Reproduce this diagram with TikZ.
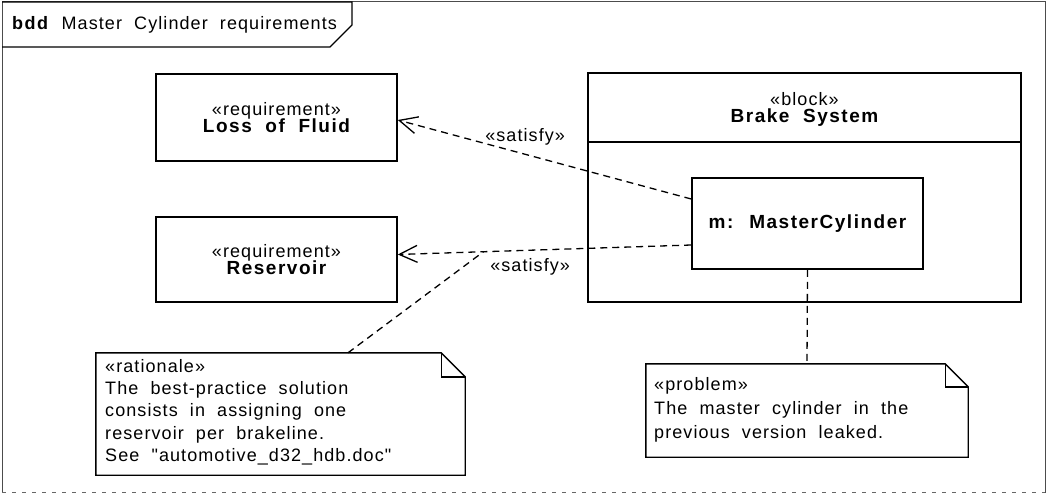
\documentclass[tikz,border=0pt]{standalone}
\usepackage{fontspec}
\newfontfamily\umlfont[LetterSpace=6,WordSpace=2,BoldFeatures={LetterSpace=8}]{Liberation Sans}
\usetikzlibrary{arrows.meta}
\newcommand\stfont{\umlfont\fontsize{18}{20}\selectfont}
\newcommand\nmfont{\umlfont\fontsize{19}{20}\selectfont\bfseries}
\tikzset{
  boxl/.style={draw=black, line width=1.6pt, rectangle, inner sep=0pt},
  reqbox/.style={boxl, minimum width=241pt, align=center, font=\stfont},
  notearea/.style={rectangle, inner sep=0pt, draw=none},
  notel/.style={draw=black, line width=1.4pt, line join=miter},
  dep/.style={draw=black, line width=1.3pt, dash pattern=on 7pt off 5pt},
  sat/.style={dep, -{Straight Barb[length=18pt,width=17pt,line width=1.3pt]}},
  lbl/.style={font=\stfont, inner sep=0pt},
  notetext/.style={anchor=north west, align=left, inner sep=0pt},
  frm/.style={draw=black!70, line width=1pt}
}
\begin{document}
\begin{tikzpicture}[x=1pt,y=-1pt]
\useasboundingbox (0,0) rectangle (1047,495);
% frame
\draw[frm] (2,492.5) -- (2,2) -- (1045,2) -- (1045,492.5);
\draw[draw=black!60, line width=1pt, dash pattern=on 4pt off 6pt] (2,492.5) -- (1045,492.5);
\draw[draw=black, line width=1.2pt] (2,2) -- (352,2) -- (352,25) -- (330,47) -- (2,47);
\node[anchor=west, inner sep=0pt, font=\stfont] (title) at (12,24.5) {\textbf{bdd} Master Cylinder requirements};
% requirements
\node[reqbox, minimum height=87pt] (lof) at (276.5,117.5) {«requirement»\\[-3pt]{\nmfont Loss of Fluid}};
\node[reqbox, minimum height=85pt] (res) at (276.5,259.5) {«requirement»\\[-3pt]{\nmfont Reservoir}};
% block
\node[boxl, minimum width=433pt, minimum height=229pt] (brake) at (804.5,187.5) {};
\draw[line width=1.6pt] (brake.north west) ++(0,70) coordinate (cl) -- (cl -| brake.east);
\node[inner sep=0pt, align=center, font=\stfont] (brakehd) at (804.5,109) {«block»\\[-3pt]{\nmfont Brake System}};
\node[boxl, minimum width=231pt, minimum height=91pt, font=\nmfont] (mc) at (807.5,223.5) {m: MasterCylinder};
% notes
\node[notearea, minimum width=369pt, minimum height=122pt] (rat) at (280.5,414) {};
\draw[notel] (rat.north west) -- ([xshift=-24pt]rat.north east) -- ([yshift=-24pt]rat.north east) -- (rat.south east) -- (rat.south west) -- cycle;
\draw[notel] ([xshift=-24pt]rat.north east) |- ([yshift=-24pt]rat.north east);
\node[notetext, font=\umlfont\fontsize{18}{22.3}\selectfont] (ratt) at (105,359) {«rationale»\\The best-practice solution\\consists in assigning one\\reservoir per brakeline.\\See "automotive\_d32\_hdb.doc"};
\node[notearea, minimum width=322pt, minimum height=93pt] (prob) at (807,410.5) {};
\draw[notel] (prob.north west) -- ([xshift=-23pt]prob.north east) -- ([yshift=-23pt]prob.north east) -- (prob.south east) -- (prob.south west) -- cycle;
\draw[notel] ([xshift=-23pt]prob.north east) |- ([yshift=-23pt]prob.north east);
\node[notetext, font=\umlfont\fontsize{18}{24.3}\selectfont] (probt) at (654,377) {«problem»\\The master cylinder in the\\previous version leaked.};
% connectors
\draw[sat] ([yshift=24.5pt]mc.west) -- node[lbl, pos=0.566, yshift=17pt] (s1) {«satisfy»} ([yshift=-2.5pt]lof.east);
\draw[sat] ([yshift=-21.5pt]mc.west) -- coordinate[pos=0.708] (ra) node[lbl, pos=0.549, yshift=-16.5pt] (s2) {«satisfy»} ([yshift=5pt]res.east);
\draw[dep] ([xshift=67.5pt]rat.north) -- (ra);
\draw[dep] (mc.south) -- (prob.north);
\end{tikzpicture}
\end{document}
